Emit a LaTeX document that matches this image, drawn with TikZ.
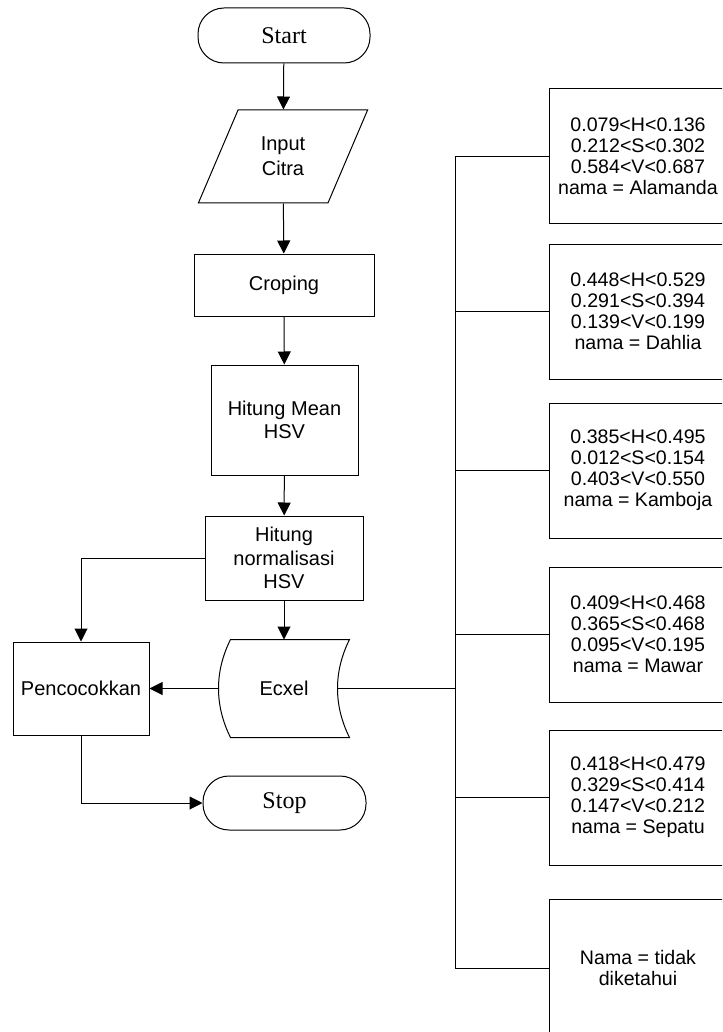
\documentclass[tikz,border=0pt]{standalone}
\usepackage{fontspec}
\setmainfont{Liberation Serif}
\setsansfont{Liberation Sans}
\usetikzlibrary{arrows.meta, positioning, shapes.geometric, calc}

\begin{document}
\begin{tikzpicture}[x=0.5pt, y=-0.5pt, line width=0.5pt,
  flow/.style={-{Triangle[length=6.5pt,width=6.5pt]}},
  terminal/.style={draw, rounded corners=13pt, minimum height=27.5pt, font=\rmfamily\fontsize{12}{14}\selectfont},
  process/.style={draw, align=center, font=\sffamily\fontsize{10}{11.7}\selectfont},
  inputbox/.style={draw, trapezium, trapezium left angle=64, trapezium right angle=116, trapezium stretches=true, align=center, font=\sffamily\fontsize{10}{12.5}\selectfont},
  storebox/.style={inner sep=0pt, font=\sffamily\fontsize{10}{11.7}\selectfont},
  condbox/.style={draw, minimum width=89pt, minimum height=67.5pt, align=center, font=\sffamily\fontsize{9.8}{10.5}\selectfont}]
\clip (0,0) rectangle (722,1032);

% main flow
\node[terminal, minimum width=86pt] (start) at (284,35.5) {Start};
\node[inputbox, minimum width=85pt, minimum height=46.5pt] (input) at (283,156.5) {Input\\Citra};
\node[process, minimum width=90pt, minimum height=31pt] (crop) at (284,285) {Croping};
\node[process, minimum width=73.5pt, minimum height=55pt] (mean) at (284.5,420) {Hitung Mean\\HSV};
\node[process, minimum width=79pt, minimum height=42pt] (norm) at (284,558) {Hitung\\normalisasi\\HSV};
\node[storebox, minimum width=65pt, minimum height=48.5pt] (ecxel) at (284,688.5) {Ecxel};
\node[process, minimum width=68pt, minimum height=46.5pt] (match) at (81,688.5) {Pencocokkan};
\node[terminal, minimum width=81.5pt, minimum height=27pt] (stop) at (284.5,803) {Stop};

% stored data outline
\coordinate (ecxelnw) at ($(ecxel.north west)+(12,0)$);
\coordinate (ecxelsw) at ($(ecxel.south west)+(12,0)$);
\draw (ecxelnw) -- (ecxel.north east) .. controls +(-16,32) and +(-16,-32) .. (ecxel.south east)
  -- (ecxelsw) .. controls +(-16,-32) and +(-16,32) .. (ecxelnw) -- cycle;

% conditions
\node[condbox] (alamanda) at (638,156.5) {0.079<H<0.136\\0.212<S<0.302\\0.584<V<0.687\\nama = Alamanda};
\node[condbox] (dahlia) at (638,311.5) {0.448<H<0.529\\0.291<S<0.394\\0.139<V<0.199\\nama = Dahlia};
\node[condbox] (kamboja) at (638,470.5) {0.385<H<0.495\\0.012<S<0.154\\0.403<V<0.550\\nama = Kamboja};
\node[condbox] (mawar) at (638,634.5) {0.409<H<0.468\\0.365<S<0.468\\0.095<V<0.195\\nama = Mawar};
\node[condbox] (sepatu) at (638,797.5) {0.418<H<0.479\\0.329<S<0.414\\0.147<V<0.212\\nama = Sepatu};
\node[condbox, minimum height=69pt] (unknown) at (638,968) {Nama = tidak\\diketahui};

% connectors
\draw[flow] (start) -- (input);
\draw[flow] (input) -- (crop);
\draw[flow] (crop) -- (mean);
\draw[flow] (mean) -- (norm);
\draw[flow] (norm) -- (ecxel);
\draw[flow] (norm.west) -| (match.north);
\draw[flow] (ecxel.west) -- (match.east);
\draw[flow] (match.south) |- (stop.west);

% bus to conditions
\coordinate (bus) at (455,0);
\draw ($(ecxel.east)+(-12,0)$) -- (ecxel.east -| bus);
\draw (alamanda.west -| bus) -- (unknown.west -| bus);
\draw (alamanda.west -| bus) -- (alamanda.west);
\draw (dahlia.west -| bus) -- (dahlia.west);
\draw (kamboja.west -| bus) -- (kamboja.west);
\draw (mawar.west -| bus) -- (mawar.west);
\draw (sepatu.west -| bus) -- (sepatu.west);
\draw (unknown.west -| bus) -- (unknown.west);
\end{tikzpicture}
\end{document}
